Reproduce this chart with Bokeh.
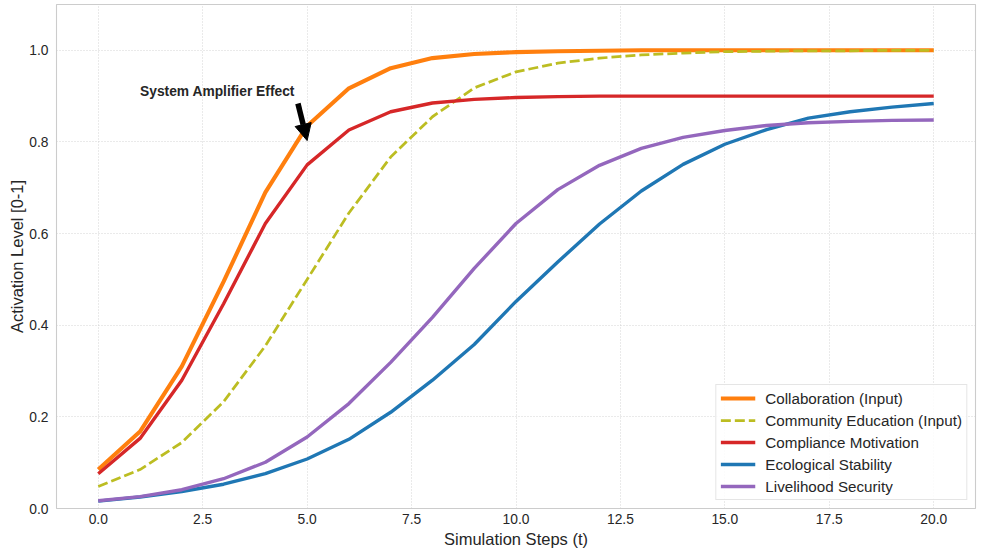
from bokeh.plotting import figure
from bokeh.models import (ColumnDataSource, Legend, LegendItem, Label, Arrow,
                          NormalHead, Range1d, FixedTicker)
from bokeh.embed import file_html
from bokeh.resources import INLINE

# Simulation steps and activation levels of each system component
steps = list(range(21))
collaboration = [0.085, 0.168, 0.31, 0.495, 0.69, 0.835, 0.917, 0.961, 0.983, 0.992, 0.996,
                 0.998, 0.999, 1.0, 1.0, 1.0, 1.0, 1.0, 1.0, 1.0, 1.0]
education = [0.048, 0.085, 0.144, 0.233, 0.355, 0.5, 0.645, 0.767, 0.855, 0.918, 0.953,
             0.972, 0.983, 0.99, 0.994, 0.997, 0.998, 0.999, 0.999, 1.0, 1.0]
compliance = [0.076, 0.153, 0.28, 0.447, 0.622, 0.75, 0.826, 0.866, 0.885, 0.893, 0.897,
              0.899, 0.9, 0.9, 0.9, 0.9, 0.9, 0.9, 0.9, 0.9, 0.9]
ecology = [0.016, 0.025, 0.037, 0.053, 0.076, 0.108, 0.151, 0.21, 0.28, 0.358, 0.452,
           0.538, 0.621, 0.693, 0.751, 0.795, 0.827, 0.852, 0.866, 0.876, 0.884]
livelihood = [0.017, 0.026, 0.041, 0.065, 0.101, 0.156, 0.229, 0.319, 0.417, 0.524, 0.622,
              0.696, 0.749, 0.786, 0.81, 0.825, 0.836, 0.842, 0.845, 0.847, 0.848]

x_ticks = [0, 2.5, 5, 7.5, 10, 12.5, 15, 17.5, 20]
y_ticks = [0.0, 0.2, 0.4, 0.6, 0.8, 1.0]

# Annotation: text anchor (vertical middle of the text), arrow tail and tip (data units)
note_text = "System Amplifier Effect"
note_xy = (1.0, 0.911)
arrow_tail = (4.78, 0.884)
arrow_tip = (5.0, 0.803)

FONT = "Liberation Sans"
TEXT = "#262626"

src = ColumnDataSource(dict(t=steps, collab=collaboration, edu=education,
                            comp=compliance, eco=ecology, live=livelihood))

p = figure(width=984, height=557, output_backend="svg", toolbar_location=None,
           x_range=Range1d(-1, 21), y_range=Range1d(0, 1.1),
           min_border_left=56, min_border_right=9, min_border_top=4, min_border_bottom=49)
p.background_fill_color = "white"
p.border_fill_color = "white"
p.outline_line_color = "#cccccc"
p.outline_line_width = 1.1

for ax in (p.xaxis[0], p.yaxis[0]):
    ax.axis_line_color = None
    ax.major_tick_line_color = None
    ax.minor_tick_line_color = None
    ax.major_tick_out = 0
    ax.major_tick_in = 0
    ax.minor_tick_out = 0
    ax.major_label_text_font = FONT
    ax.major_label_text_font_size = "13.8px"
    ax.major_label_text_color = TEXT
    ax.axis_label_text_font = FONT
    ax.axis_label_text_font_size = "16.5px"
    ax.axis_label_text_font_style = "normal"
    ax.axis_label_text_color = TEXT

p.xaxis.ticker = FixedTicker(ticks=x_ticks)
p.yaxis.ticker = FixedTicker(ticks=y_ticks)
p.xaxis.major_label_overrides = {v: f"{v:.1f}" for v in x_ticks}
p.yaxis.major_label_overrides = {v: f"{v:.1f}" for v in y_ticks}
p.xaxis.axis_label = "Simulation Steps (t)"
p.yaxis.axis_label = "Activation Level [0-1]"
p.xaxis.major_label_standoff = 5
p.yaxis.major_label_standoff = 8
p.xaxis.axis_label_standoff = 3
p.yaxis.axis_label_standoff = 0

for g in (p.xgrid[0], p.ygrid[0]):
    g.grid_line_color = "#cccccc"
    g.grid_line_dash = "1 2"
    g.grid_line_width = 1
    g.grid_line_alpha = 0.8

r_collab = p.line("t", "collab", source=src, line_color="#ff7f0e", line_width=4.1)
r_edu = p.line("t", "edu", source=src, line_color="#bcbd22", line_width=2.75,
               line_dash="10 4")
r_comp = p.line("t", "comp", source=src, line_color="#d62728", line_width=3.4)
r_eco = p.line("t", "eco", source=src, line_color="#1f77b4", line_width=3.4)
r_live = p.line("t", "live", source=src, line_color="#9467bd", line_width=3.4)

# Annotation pointing at the collaboration curve
p.add_layout(Label(x=note_xy[0], y=note_xy[1], text=note_text, text_font=FONT,
                   text_font_size="13.8px", text_font_style="bold", text_color=TEXT,
                   text_align="left", text_baseline="middle"))
p.add_layout(Arrow(x_start=arrow_tail[0], y_start=arrow_tail[1],
                   x_end=arrow_tip[0], y_end=arrow_tip[1],
                   line_color="black", line_width=5.5,
                   end=NormalHead(size=16.5, fill_color="black", line_color="black",
                                  line_width=1)))

legend = Legend(items=[
    LegendItem(label="Collaboration (Input)", renderers=[r_collab]),
    LegendItem(label="Community Education (Input)", renderers=[r_edu]),
    LegendItem(label="Compliance Motivation", renderers=[r_comp]),
    LegendItem(label="Ecological Stability", renderers=[r_eco]),
    LegendItem(label="Livelihood Security", renderers=[r_live]),
], location="bottom_right")
legend.margin = 8
legend.padding = 4
legend.spacing = 4
legend.label_height = 18
legend.glyph_height = 18
legend.glyph_width = 35
legend.label_standoff = 10
legend.label_text_font = FONT
legend.label_text_font_size = "15.2px"
legend.label_text_color = TEXT
legend.border_line_color = "#cccccc"
legend.border_line_width = 1
legend.background_fill_color = "white"
legend.background_fill_alpha = 0.85
p.add_layout(legend)

open("out.html", "w").write(file_html(p, INLINE))
